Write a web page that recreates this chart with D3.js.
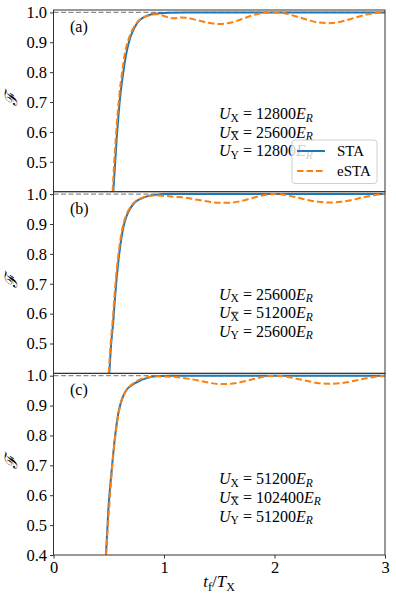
<!DOCTYPE html>
<html><head><meta charset="utf-8">
<script src="https://cdn.jsdelivr.net/npm/d3@7"></script>
<style>
body{margin:0;background:#fff}
svg{display:block}
text{font-family:"Liberation Serif","DejaVu Serif",serif;fill:#000}
</style>
</head><body>
<svg id="chart" width="396" height="606"></svg>
<script>
// ---------- data ----------
const panelLabels = ["(a)", "(b)", "(c)"];
const uX    = ["12800", "25600", "51200"];
const uXbar = ["25600", "51200", "102400"];
const uY    = ["12800", "25600", "51200"];
const seriesNames = ["STA", "eSTA"];
const xTicks = [0, 1, 2, 3];
const yTicksTop = [0.5, 0.6, 0.7, 0.8, 0.9, 1.0];
const yTicksBottom = [0.4, 0.5, 0.6, 0.7, 0.8, 0.9, 1.0];

// panel (a)
const staT_a  = [0.541,0.557,0.572,0.587,0.602,0.617,0.632,0.647,0.662,0.692,0.722,0.75,0.783,0.83,0.873,0.92,0.964,1.05,1.2,3.0];
const staF_a  = [0.4,0.49,0.578,0.65,0.712,0.76,0.80,0.837,0.868,0.913,0.941,0.96,0.975,0.986,0.992,0.995,0.997,0.999,1.0,1.0];
const estaT_a = [0.535,0.55,0.565,0.58,0.595,0.61,0.625,0.64,0.655,0.675,0.705,0.735,0.77,0.82,0.87,0.93,0.97,1.0,1.05,1.1,1.15,1.2,1.3,1.4,1.5,1.6,1.7,1.8,1.9,2.0,2.1,2.2,2.3,2.4,2.5,2.6,2.7,2.8,2.9,3.0];
const estaF_a = [0.4,0.5,0.585,0.66,0.72,0.77,0.81,0.85,0.878,0.905,0.935,0.955,0.972,0.985,0.991,0.994,0.992,0.988,0.982,0.98,0.983,0.982,0.974,0.965,0.961,0.965,0.977,0.99,0.998,1.0,0.996,0.986,0.975,0.966,0.964,0.969,0.979,0.99,0.997,1.0];

// panel (b)
const staT_b  = [0.505,0.52,0.541,0.556,0.572,0.587,0.602,0.617,0.632,0.662,0.692,0.722,0.76,0.813,0.86,0.903,0.95,1.0,1.1,3.0];
const staF_b  = [0.4,0.49,0.574,0.65,0.72,0.775,0.82,0.858,0.888,0.927,0.95,0.966,0.979,0.988,0.994,0.997,0.999,1.0,1.0,1.0];
const estaT_b = [0.5,0.515,0.535,0.55,0.565,0.58,0.595,0.61,0.625,0.655,0.685,0.715,0.755,0.805,0.855,0.9,0.95,1.0,1.1,1.2,1.3,1.4,1.5,1.6,1.7,1.8,1.9,2.0,2.1,2.2,2.3,2.4,2.5,2.6,2.7,2.8,2.9,3.0];
const estaF_b = [0.4,0.49,0.574,0.65,0.72,0.775,0.82,0.858,0.888,0.927,0.95,0.966,0.979,0.988,0.993,0.995,0.995,0.994,0.991,0.988,0.981,0.975,0.971,0.971,0.977,0.987,0.996,1.0,0.997,0.989,0.98,0.974,0.972,0.974,0.98,0.989,0.996,1.0];

// panel (c)
const staT_c  = [0.475,0.496,0.527,0.557,0.587,0.617,0.662,0.7,0.738,0.78,0.828,0.87,0.919,0.97,1.05,3.0];
const staF_c  = [0.4,0.55,0.685,0.796,0.875,0.919,0.953,0.966,0.975,0.983,0.99,0.995,0.998,0.999,1.0,1.0];
const estaT_c = [0.475,0.5,0.53,0.56,0.59,0.62,0.66,0.7,0.75,0.8,0.85,0.9,0.95,1.0,1.1,1.2,1.3,1.4,1.5,1.6,1.7,1.8,1.9,2.0,2.1,2.2,2.3,2.4,2.5,2.6,2.7,2.8,2.9,3.0];
const estaF_c = [0.4,0.54,0.69,0.80,0.877,0.92,0.952,0.968,0.981,0.99,0.995,0.997,0.998,0.997,0.996,0.991,0.985,0.977,0.972,0.973,0.979,0.988,0.996,1.0,0.997,0.99,0.982,0.975,0.973,0.975,0.981,0.989,0.996,1.0];

// ---------- layout ----------
const svg = d3.select("#chart");
const left = 53.5, right = 385;
const panelTops = [10, 191.7, 373.3];
const panelH = 181.7;
const textOffsets = [109, 108, 111];
const colors = {STA: "#1f77b4", eSTA: "#ff7f0e"};
const serif = '"Liberation Serif","DejaVu Serif",serif';

const x = d3.scaleLinear().domain([0, 3]).range([left, right]);

const panels = [
  {sta: [staT_a, staF_a], esta: [estaT_a, estaF_a]},
  {sta: [staT_b, staF_b], esta: [estaT_b, estaF_b]},
  {sta: [staT_c, staF_c], esta: [estaT_c, estaF_c]}
];

const zip = (t, f) => t.map((v, i) => [v, f[i]]);

panels.forEach((p, i) => {
  const top = panelTops[i];
  const y = d3.scaleLinear().domain([0.4, 1.008]).range([top + panelH, top]);
  const g = svg.append("g");

  const clipId = "clip" + i;
  svg.append("clipPath").attr("id", clipId)
    .append("rect").attr("x", left).attr("y", top).attr("width", right - left).attr("height", panelH);

  g.append("line")
    .attr("x1", left).attr("x2", right)
    .attr("y1", y(1.0)).attr("y2", y(1.0))
    .attr("stroke", "#8c8c8c").attr("stroke-width", 1.2)
    .attr("stroke-dasharray", "5,2.5");

  const line = d3.line().x(d => x(d[0])).y(d => y(d[1])).curve(d3.curveMonotoneX);
  const cg = g.append("g").attr("clip-path", `url(#${clipId})`);
  cg.append("path").datum(zip(p.sta[0], p.sta[1]))
    .attr("d", line).attr("fill", "none")
    .attr("stroke", colors.STA).attr("stroke-width", 2);
  cg.append("path").datum(zip(p.esta[0], p.esta[1]))
    .attr("d", line).attr("fill", "none")
    .attr("stroke", colors.eSTA).attr("stroke-width", 2)
    .attr("stroke-dasharray", "6.5,3");

  const ticks = i === 2 ? yTicksBottom : yTicksTop;
  const ya = d3.axisLeft(y).tickValues(ticks).tickFormat(d3.format(".1f")).tickSize(3.5).tickPadding(3);
  const yg = g.append("g").attr("transform", `translate(${left},0)`).call(ya);
  yg.attr("font-family", serif);
  yg.select(".domain").remove();
  yg.selectAll("line").attr("stroke", "#333");
  yg.selectAll("text").attr("font-size", 16.5).style("font-family", serif).attr("fill", "#222");

  if (i === 2) {
    const xa = d3.axisBottom(x).tickValues(xTicks).tickFormat(d3.format("d")).tickSize(3.5).tickPadding(3);
    const xg = g.append("g").attr("transform", `translate(0,${top + panelH})`).call(xa);
    xg.attr("font-family", serif);
    xg.select(".domain").remove();
    xg.selectAll("line").attr("stroke", "#333");
    xg.selectAll("text").attr("font-size", 16.5).style("font-family", serif).attr("fill", "#222");
  }

  g.append("rect").attr("x", left).attr("y", top).attr("width", right - left).attr("height", panelH)
    .attr("fill", "none").attr("stroke", "#333").attr("stroke-width", 1);

  g.append("text")
    .attr("transform", `translate(17,${top + panelH / 2 - 2}) rotate(-90)`)
    .attr("text-anchor", "middle")
    .attr("font-size", 17).attr("font-style", "italic")
    .text("ℱ");

  g.append("text").attr("x", 70).attr("y", top + 22)
    .attr("font-size", 16).attr("fill", "#222").text(panelLabels[i]);

  const tx = 219, ty = top + textOffsets[i], lh = 18.6;
  const lines = [
    {sub: "X", val: uX[i], bar: false},
    {sub: "X", val: uXbar[i], bar: true},
    {sub: "Y", val: uY[i], bar: false}
  ];
  lines.forEach((L, k) => {
    const t = g.append("text").attr("x", tx).attr("y", ty + k * lh).attr("font-size", 16);
    t.append("tspan").attr("font-style", "italic").text("U");
    t.append("tspan").attr("dy", 2.5).attr("font-size", 11.5).text(L.sub);
    t.append("tspan").attr("dy", -2.5).text(" = " + L.val);
    t.append("tspan").attr("font-style", "italic").text("E");
    t.append("tspan").attr("dy", 2.5).attr("font-size", 11.5).attr("font-style", "italic").text("R");
    if (L.bar) {
      const ext = t.node().getExtentOfChar(1);
      g.append("line")
        .attr("x1", ext.x + 0.5).attr("x2", ext.x + ext.width - 0.5)
        .attr("y1", ext.y + 1.5).attr("y2", ext.y + 1.5)
        .attr("stroke", "#000").attr("stroke-width", 0.8);
    }
  });
});

// legend (panel a)
const lg = svg.append("g");
lg.append("rect").attr("x", 292).attr("y", 140).attr("width", 85).attr("height", 43.5)
  .attr("rx", 3).attr("fill", "#fff").attr("fill-opacity", 0.8)
  .attr("stroke", "#d0d0d0").attr("stroke-width", 1);
seriesNames.forEach((name, k) => {
  const yy = 151 + k * 20;
  lg.append("line").attr("x1", 297).attr("x2", 325).attr("y1", yy).attr("y2", yy)
    .attr("stroke", colors[name]).attr("stroke-width", 2)
    .attr("stroke-dasharray", name === "eSTA" ? "6.5,3" : null);
  lg.append("text").attr("x", 337).attr("y", yy + 5).attr("font-size", 15).attr("fill", "#222").text(name);
});

// x label
const xl = svg.append("text").attr("x", 219).attr("y", 587).attr("text-anchor", "middle").attr("font-size", 17);
xl.append("tspan").attr("font-style", "italic").text("t");
xl.append("tspan").attr("dy", 3.5).attr("font-size", 12).text("f");
xl.append("tspan").attr("dy", -3.5).text("/");
xl.append("tspan").attr("font-style", "italic").text("T");
xl.append("tspan").attr("dy", 3.5).attr("font-size", 12).text("X");
</script>
</body></html>
